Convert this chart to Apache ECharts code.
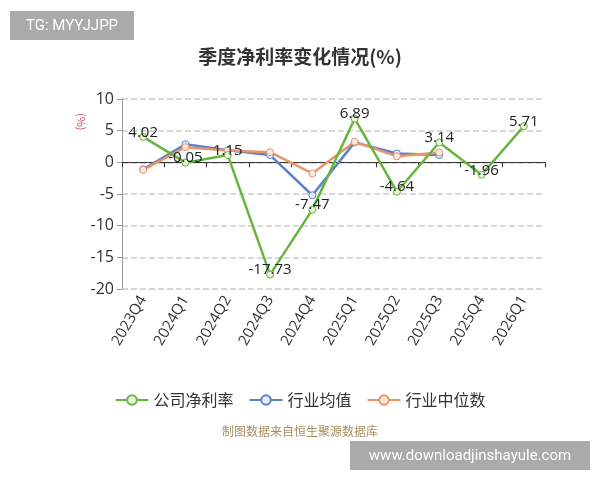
<!DOCTYPE html>
<html><head><meta charset="utf-8">
<script src="https://cdn.jsdelivr.net/npm/echarts@6/dist/echarts.min.js"></script>
<style>html,body{margin:0;padding:0;background:#fff}#c{width:600px;height:480px}</style>
</head><body><div id="c"></div>
<script>
var categories = ['2023Q4','2024Q1','2024Q2','2024Q3','2024Q4','2025Q1','2025Q2','2025Q3','2025Q4','2026Q1'];
var companyRate = [4.02, -0.05, 1.15, -17.73, -7.47, 6.89, -4.64, 3.14, -1.96, 5.71];
var industryAvg = [-1.1, 2.85, 1.9, 1.15, -5.2, 3.15, 1.4, 1.15, null, null];
var industryMedian = [-1.2, 2.4, 1.85, 1.6, -1.75, 3.25, 0.95, 1.55, null, null];
var yTicks = [-20, -15, -10, -5, 0, 5, 10];

var chart = echarts.init(document.getElementById('c'));
var font = '"Noto Sans CJK SC", "Open Sans", sans-serif';
var numFont = '"Open Sans", "Noto Sans CJK SC", sans-serif';
chart.setOption({
  animation: false,
  textStyle: {fontFamily: font},
  title: {text: '季度净利率变化情况(%)', left: 'center', top: 42,
    textStyle: {fontSize: 19, fontWeight: 'bold', color: '#333', fontFamily: font}},
  grid: {left: 122, right: 55, top: 99, bottom: 191, containLabel: false},
  legend: {top: 387, left: 'center', itemGap: 15, itemWidth: 33, itemHeight: 12,
    textStyle: {fontSize: 16, color: '#333'},
    data: ['公司净利率', '行业均值', '行业中位数']},
  xAxis: {type: 'category', data: categories, boundaryGap: true,
    axisLine: {onZero: true, lineStyle: {color: '#333'}},
    axisTick: {show: true, lineStyle: {color: '#333'}},
    axisLabel: {rotate: 60, fontSize: 15, color: '#333', interval: 0, margin: 8, fontFamily: numFont}},
  yAxis: {type: 'value', min: yTicks[0], max: yTicks[yTicks.length - 1], interval: 5,
    axisLine: {show: true, lineStyle: {color: '#999'}},
    axisTick: {show: true, lineStyle: {color: '#999'}},
    axisLabel: {fontSize: 16, color: '#333', fontFamily: numFont},
    splitLine: {lineStyle: {type: 'dashed', color: '#ccc', width: 1.5}}},
  graphic: [
    {type: 'group', left: 10, top: 11, children: [
      {type: 'rect', shape: {x: 0, y: 0, width: 124, height: 29}, style: {fill: '#aaaaaa'}},
      {type: 'text', x: 62, y: 15, style: {text: 'TG: MYYJJPP', fill: '#fff', font: '15px Roboto, sans-serif', align: 'center', verticalAlign: 'middle'}}
    ]},
    {type: 'group', left: 350, top: 441, children: [
      {type: 'rect', shape: {x: 0, y: 0, width: 240, height: 29}, style: {fill: '#aaaaaa'}},
      {type: 'text', x: 120, y: 15, style: {text: 'www.downloadjinshayule.com', fill: '#fff', font: '15px Roboto, sans-serif', align: 'center', verticalAlign: 'middle'}}
    ]},
    {type: 'text', left: 'center', top: 425, style: {text: '制图数据来自恒生聚源数据库', fill: '#a89060', font: '12px "Noto Sans CJK SC", sans-serif'}},
    {type: 'text', x: 87, y: 113, rotation: -Math.PI / 2, originX: 0, originY: 0,
      style: {text: '(%)', fill: '#d04848', font: '11px "Noto Sans CJK SC", sans-serif'}}
  ],
  series: [
    {name: '公司净利率', type: 'line', data: companyRate, symbol: 'circle', symbolSize: 7,
      lineStyle: {color: '#66b53c', width: 2.5},
      itemStyle: {color: '#e8f6dc', borderColor: '#66b53c', borderWidth: 1},
      label: {show: true, position: 'top', fontSize: 15, color: '#222', distance: -7, fontFamily: numFont}, z: 3},
    {name: '行业均值', type: 'line', data: industryAvg, symbol: 'circle', symbolSize: 7,
      lineStyle: {color: '#5b80cc', width: 2.5},
      itemStyle: {color: '#e8eefa', borderColor: '#5b80cc', borderWidth: 1}, z: 2},
    {name: '行业中位数', type: 'line', data: industryMedian, symbol: 'circle', symbolSize: 7,
      lineStyle: {color: '#e8956a', width: 2.5},
      itemStyle: {color: '#fbe9dd', borderColor: '#e8956a', borderWidth: 1}, z: 2}
  ]
});
</script></body></html>
